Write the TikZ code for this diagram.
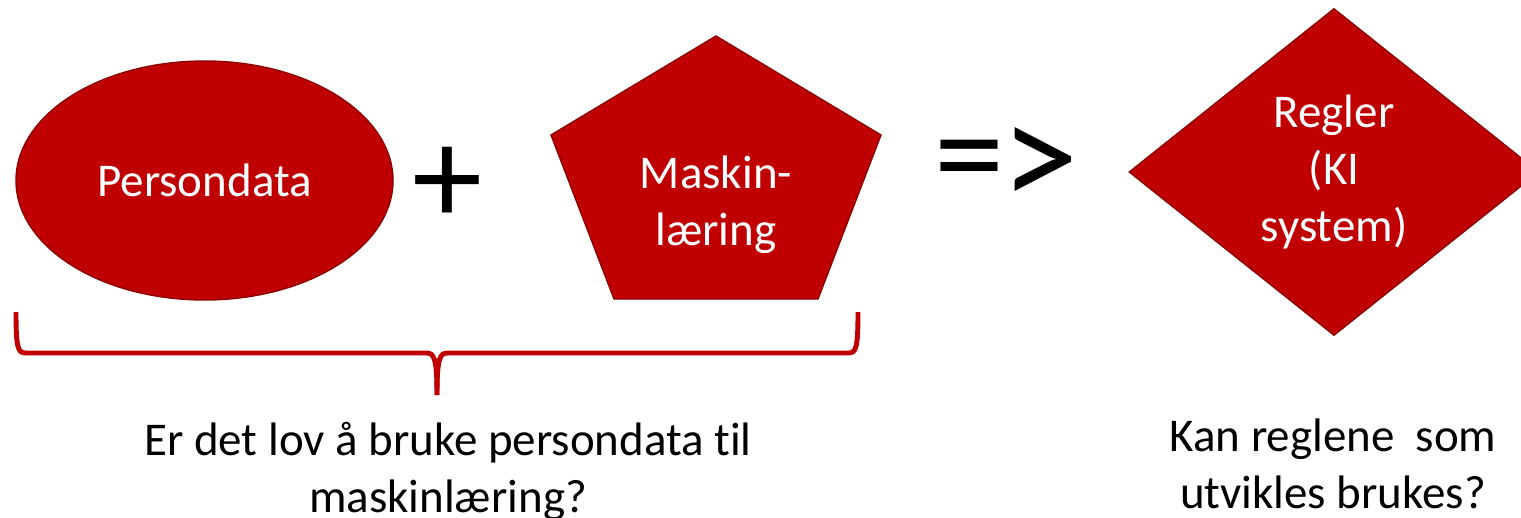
\documentclass[tikz,border=0pt]{standalone}
\usepackage{fontspec}
\setmainfont{Carlito}[Ligatures=NoCommon]
\usepackage{xcolor}
\usepackage{tikz}
\usetikzlibrary{shapes.geometric}

\definecolor{kired}{HTML}{C00000}
\definecolor{kiredline}{HTML}{8C0000}
\newcommand{\shapefont}{\fontsize{33.4}{40.5}\selectfont}
\newcommand{\symfont}{\fontsize{100}{110}\selectfont}

\tikzset{
    redshape/.style={draw=kiredline, line width=1pt, fill=kired, text=white, font=\shapefont, inner sep=0pt},
    question/.style={font=\shapefont, align=center},
    bracket/.style={draw=kired, line width=3.5pt}
}

\begin{document}
\begin{tikzpicture}
            \useasboundingbox (0,0) rectangle (38.025,12.925);

            % Left shape - personal data
            \node[redshape, ellipse, minimum width=9.425cm, minimum height=5.975cm] (persondata) at (5.1125,8.4125) {Persondata};
            
            % Plus sign
            \node[font=\symfont] (plus) at (11.2,8.275) {+};
            
            % Pentagon - machine learning
            \filldraw[fill=kired, draw=kiredline, line width=1pt] (17.9,12.025) -- (22.025,9.55) -- (20.45,5.45) -- (15.35,5.45) -- (13.775,9.55) -- cycle;
            \node[text=white, font=\shapefont, align=center] (maskin) at (17.9,7.8) {Maskin-\\læring};
            
            % Implies sign
            \node[font=\symfont] (equals) at (24.225,8.675) {=};
            \node[font=\symfont, xscale=1.1, yscale=1.1, transform shape] (greater) at (26.0,8.7375) {>};
            
            % Diamond - rules
            \node[redshape, diamond, minimum width=10.25cm, minimum height=8.175cm, align=center] (regler) at (33.35,8.625) {Regler\\(KI\\system)};
            
            % Brace under the two inputs
            \draw[bracket] (0.4,5.125) .. controls (0.4,4.2) and (0.45,4.1) .. (0.65,4.1) -- (10.65,4.1) .. controls (10.85,4.1) and (10.925,4.0) .. (10.925,3.05);
            \draw[bracket] (21.45,5.125) .. controls (21.45,4.2) and (21.4,4.1) .. (21.2,4.1) -- (11.2,4.1) .. controls (11.0,4.1) and (10.925,4.0) .. (10.925,3.05);
            
            % Questions
            \node[question] (lov) at (11.2,1.15) {Er det lov å bruke persondata til\\maskinlæring?};
            \node[question] (bruk) at (33.325,1.3375) {Kan reglene\ \ som\\utvikles brukes?};
        \end{tikzpicture}
\end{document}
